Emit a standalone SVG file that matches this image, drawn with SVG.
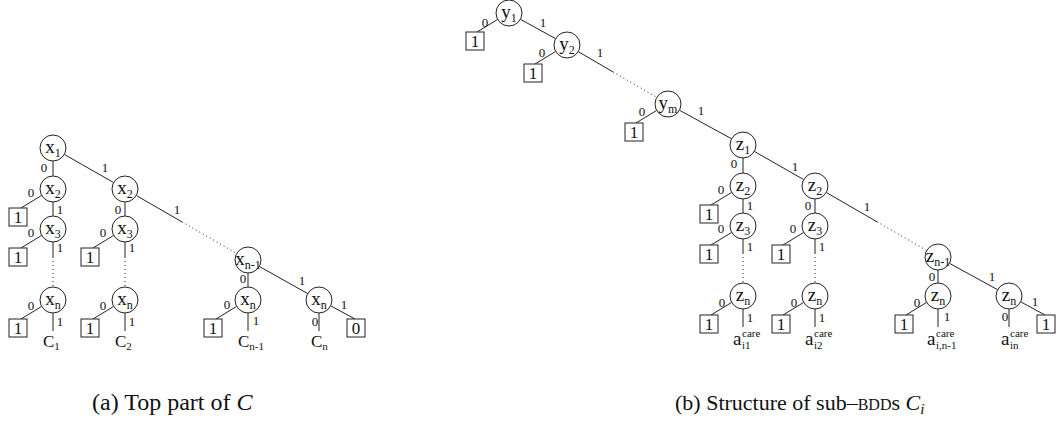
<svg xmlns="http://www.w3.org/2000/svg" width="1059" height="427" viewBox="0 0 1059 427">
  <style>
    text { font-family: "Liberation Serif", "Times New Roman", serif; fill: #111; }
    .node circle { fill: #fff; stroke: #222; stroke-width: 1; }
    .node text { font-size: 19px; text-anchor: middle; }
    .node text tspan { font-size: 12px; }
    .term rect { fill: #fff; stroke: #222; stroke-width: 1; }
    .term text { font-size: 17px; text-anchor: middle; }
    .edges line { stroke: #222; stroke-width: 1; }
    .edges line.dot { stroke-dasharray: 1 3; }
    .elab text { font-size: 13px; text-anchor: middle; }
    .leaf text { font-size: 17px; }
    .leaf text.a { font-size: 19px; }
    .leaf text.s, .leaf tspan.s { font-size: 11px; }
  </style>

  <!-- connectors: part (a) -->
  <g class="edges" id="edges-a">
    <line x1="53" y1="161" x2="53" y2="176"/>
    <line x1="64.3" y1="154.4" x2="113.7" y2="182.6"/>
    <line x1="41.7" y1="195.4" x2="21" y2="208"/>
    <line x1="53" y1="202" x2="53" y2="216"/>
    <line x1="41.7" y1="235.4" x2="21" y2="248"/>
    <line x1="53" y1="242" x2="53" y2="257"/>
    <line class="dot" x1="53" y1="257" x2="53" y2="287"/>
    <line x1="41.7" y1="306.4" x2="21" y2="319"/>
    <line x1="53" y1="313" x2="53" y2="331"/>
    <line x1="125" y1="202" x2="125" y2="216"/>
    <line x1="113.7" y1="235.4" x2="93" y2="248"/>
    <line x1="125" y1="242" x2="125" y2="257"/>
    <line class="dot" x1="125" y1="257" x2="125" y2="287"/>
    <line x1="113.7" y1="306.4" x2="93" y2="319"/>
    <line x1="125" y1="313" x2="125" y2="331"/>
    <line x1="136.3" y1="195.5" x2="182" y2="221.9"/>
    <line class="dot" x1="182" y1="221.9" x2="236.7" y2="253.5"/>
    <line x1="248" y1="273" x2="248" y2="287"/>
    <line x1="259.3" y1="266.4" x2="307.7" y2="293.6"/>
    <line x1="236.7" y1="306.4" x2="216" y2="319"/>
    <line x1="248" y1="313" x2="248" y2="331"/>
    <line x1="319" y1="313" x2="319" y2="331"/>
    <line x1="330.6" y1="305.8" x2="355" y2="319"/>
  </g>

  <!-- connectors: part (b) -->
  <g class="edges" id="edges-b">
    <line x1="497.7" y1="19.4" x2="477" y2="32"/>
    <line x1="520.4" y1="19.3" x2="555.6" y2="38.7"/>
    <line x1="555.7" y1="51.4" x2="535" y2="64"/>
    <line x1="578.2" y1="51.6" x2="613" y2="71.9"/>
    <line class="dot" x1="613" y1="71.9" x2="656.8" y2="97.4"/>
    <line x1="656.7" y1="110.4" x2="636" y2="123"/>
    <line x1="679.4" y1="110.2" x2="731.6" y2="138.8"/>
    <line x1="743" y1="158" x2="743" y2="173"/>
    <line x1="754.3" y1="151.4" x2="803.7" y2="179.6"/>
    <line x1="731.7" y1="192.4" x2="711" y2="205"/>
    <line x1="743" y1="199" x2="743" y2="213"/>
    <line x1="731.7" y1="232.4" x2="711" y2="245"/>
    <line x1="743" y1="239" x2="743" y2="253"/>
    <line class="dot" x1="743" y1="253" x2="743" y2="283"/>
    <line x1="731.7" y1="302.4" x2="711" y2="315"/>
    <line x1="743" y1="309" x2="743" y2="327"/>
    <line x1="815" y1="199" x2="815" y2="213"/>
    <line x1="803.7" y1="232.4" x2="783" y2="245"/>
    <line x1="815" y1="239" x2="815" y2="253"/>
    <line class="dot" x1="815" y1="253" x2="815" y2="283"/>
    <line x1="803.7" y1="302.4" x2="783" y2="315"/>
    <line x1="815" y1="309" x2="815" y2="327"/>
    <line x1="826.3" y1="192.5" x2="877" y2="221.8"/>
    <line class="dot" x1="877" y1="221.8" x2="926.7" y2="250.5"/>
    <line x1="938" y1="270" x2="938" y2="283"/>
    <line x1="949.4" y1="263.3" x2="997.6" y2="289.7"/>
    <line x1="926.7" y1="302.4" x2="906" y2="315"/>
    <line x1="938" y1="309" x2="938" y2="327"/>
    <line x1="1009" y1="309" x2="1009" y2="327"/>
    <line x1="1020.6" y1="301.8" x2="1045" y2="315"/>
  </g>

  <!-- edge labels -->
  <g class="elab" id="edge-labels">
    <text x="44" y="172">0</text>
    <text x="105" y="172">1</text>
    <text x="31" y="197">0</text>
    <text x="60" y="214">1</text>
    <text x="31" y="237">0</text>
    <text x="60" y="252">1</text>
    <text x="31" y="310">0</text>
    <text x="60" y="326">1</text>
    <text x="118" y="214">0</text>
    <text x="103" y="237">0</text>
    <text x="132" y="252">1</text>
    <text x="103" y="310">0</text>
    <text x="132" y="326">1</text>
    <text x="177" y="214">1</text>
    <text x="243" y="283">0</text>
    <text x="302" y="285">1</text>
    <text x="227" y="309">0</text>
    <text x="256" y="325">1</text>
    <text x="315" y="326">0</text>
    <text x="344" y="309">1</text>

    <text x="485" y="27">0</text>
    <text x="543" y="27">1</text>
    <text x="542" y="57">0</text>
    <text x="600" y="57">1</text>
    <text x="642" y="116">0</text>
    <text x="701" y="115">1</text>
    <text x="734" y="168">0</text>
    <text x="795" y="171">1</text>
    <text x="721" y="194">0</text>
    <text x="750" y="210">1</text>
    <text x="721" y="233">0</text>
    <text x="750" y="251">1</text>
    <text x="722" y="307">0</text>
    <text x="750" y="322">1</text>
    <text x="808" y="210">0</text>
    <text x="793" y="233">0</text>
    <text x="822" y="251">1</text>
    <text x="794" y="307">0</text>
    <text x="822" y="322">1</text>
    <text x="867" y="211">1</text>
    <text x="932" y="281">0</text>
    <text x="992" y="281">1</text>
    <text x="917" y="307">0</text>
    <text x="947" y="321">1</text>
    <text x="1005" y="321">0</text>
    <text x="1035" y="306">1</text>
  </g>

  <!-- part (a): decision nodes -->
  <g class="node" id="a-x1"><circle cx="53" cy="148" r="13"/><text x="53" y="152.5">x<tspan dy="4">1</tspan></text></g>
  <g class="node" id="a-x2-left"><circle cx="53" cy="189" r="13"/><text x="53" y="193.5">x<tspan dy="4">2</tspan></text></g>
  <g class="node" id="a-x3-left"><circle cx="53" cy="229" r="13"/><text x="53" y="233.5">x<tspan dy="4">3</tspan></text></g>
  <g class="node" id="a-xn-left"><circle cx="53" cy="300" r="13"/><text x="53" y="304.5">x<tspan dy="4">n</tspan></text></g>
  <g class="node" id="a-x2-right"><circle cx="125" cy="189" r="13"/><text x="125" y="193.5">x<tspan dy="4">2</tspan></text></g>
  <g class="node" id="a-x3-right"><circle cx="125" cy="229" r="13"/><text x="125" y="233.5">x<tspan dy="4">3</tspan></text></g>
  <g class="node" id="a-xn-right"><circle cx="125" cy="300" r="13"/><text x="125" y="304.5">x<tspan dy="4">n</tspan></text></g>
  <g class="node" id="a-xn-1"><circle cx="248" cy="260" r="13"/><text x="248" y="264.5">x<tspan dy="4">n-1</tspan></text></g>
  <g class="node" id="a-xn-0"><circle cx="248" cy="300" r="13"/><text x="248" y="304.5">x<tspan dy="4">n</tspan></text></g>
  <g class="node" id="a-xn-1b"><circle cx="319" cy="300" r="13"/><text x="319" y="304.5">x<tspan dy="4">n</tspan></text></g>

  <!-- part (a): terminals -->
  <g class="term" id="a-t1"><rect x="9" y="208" width="18" height="18"/><text x="18" y="223">1</text></g>
  <g class="term" id="a-t2"><rect x="9" y="248" width="18" height="18"/><text x="18" y="263">1</text></g>
  <g class="term" id="a-t3"><rect x="9" y="319" width="18" height="18"/><text x="18" y="334">1</text></g>
  <g class="term" id="a-t4"><rect x="81" y="248" width="18" height="18"/><text x="90" y="263">1</text></g>
  <g class="term" id="a-t5"><rect x="81" y="319" width="18" height="18"/><text x="90" y="334">1</text></g>
  <g class="term" id="a-t6"><rect x="204" y="319" width="18" height="18"/><text x="213" y="334">1</text></g>
  <g class="term" id="a-t7"><rect x="347" y="319" width="18" height="18"/><text x="356" y="334">0</text></g>

  <!-- part (a): sub-BDD references -->
  <g class="leaf" id="a-c1"><text x="43" y="347">C<tspan class="s" dy="3">1</tspan></text></g>
  <g class="leaf" id="a-c2"><text x="115" y="347">C<tspan class="s" dy="3">2</tspan></text></g>
  <g class="leaf" id="a-cn-1"><text x="238" y="347">C<tspan class="s" dy="3">n-1</tspan></text></g>
  <g class="leaf" id="a-cn"><text x="311" y="347">C<tspan class="s" dy="3">n</tspan></text></g>

  <!-- part (b): decision nodes -->
  <g class="node" id="b-y1"><circle cx="509" cy="13" r="13"/><text x="509" y="17.5">y<tspan dy="4">1</tspan></text></g>
  <g class="node" id="b-y2"><circle cx="567" cy="45" r="13"/><text x="567" y="49.5">y<tspan dy="4">2</tspan></text></g>
  <g class="node" id="b-ym"><circle cx="668" cy="104" r="13"/><text x="668" y="108.5">y<tspan dy="4">m</tspan></text></g>
  <g class="node" id="b-z1"><circle cx="743" cy="145" r="13"/><text x="743" y="149.5">z<tspan dy="4">1</tspan></text></g>
  <g class="node" id="b-z2-left"><circle cx="743" cy="186" r="13"/><text x="743" y="190.5">z<tspan dy="4">2</tspan></text></g>
  <g class="node" id="b-z3-left"><circle cx="743" cy="226" r="13"/><text x="743" y="230.5">z<tspan dy="4">3</tspan></text></g>
  <g class="node" id="b-zn-left"><circle cx="743" cy="296" r="13"/><text x="743" y="300.5">z<tspan dy="4">n</tspan></text></g>
  <g class="node" id="b-z2-right"><circle cx="815" cy="186" r="13"/><text x="815" y="190.5">z<tspan dy="4">2</tspan></text></g>
  <g class="node" id="b-z3-right"><circle cx="815" cy="226" r="13"/><text x="815" y="230.5">z<tspan dy="4">3</tspan></text></g>
  <g class="node" id="b-zn-right"><circle cx="815" cy="296" r="13"/><text x="815" y="300.5">z<tspan dy="4">n</tspan></text></g>
  <g class="node" id="b-zn-1"><circle cx="938" cy="257" r="13"/><text x="938" y="261.5">z<tspan dy="4">n-1</tspan></text></g>
  <g class="node" id="b-zn-0"><circle cx="938" cy="296" r="13"/><text x="938" y="300.5">z<tspan dy="4">n</tspan></text></g>
  <g class="node" id="b-zn-1b"><circle cx="1009" cy="296" r="13"/><text x="1009" y="300.5">z<tspan dy="4">n</tspan></text></g>

  <!-- part (b): terminals -->
  <g class="term" id="b-t1"><rect x="466" y="32" width="18" height="18"/><text x="475" y="47">1</text></g>
  <g class="term" id="b-t2"><rect x="524" y="64" width="18" height="18"/><text x="533" y="79">1</text></g>
  <g class="term" id="b-t3"><rect x="625" y="123" width="18" height="18"/><text x="634" y="138">1</text></g>
  <g class="term" id="b-t4"><rect x="700" y="205" width="18" height="18"/><text x="709" y="220">1</text></g>
  <g class="term" id="b-t5"><rect x="700" y="245" width="18" height="18"/><text x="709" y="260">1</text></g>
  <g class="term" id="b-t6"><rect x="700" y="315" width="18" height="18"/><text x="709" y="330">1</text></g>
  <g class="term" id="b-t7"><rect x="772" y="245" width="18" height="18"/><text x="781" y="260">1</text></g>
  <g class="term" id="b-t8"><rect x="772" y="315" width="18" height="18"/><text x="781" y="330">1</text></g>
  <g class="term" id="b-t9"><rect x="895" y="315" width="18" height="18"/><text x="904" y="330">1</text></g>
  <g class="term" id="b-t10"><rect x="1037" y="315" width="18" height="18"/><text x="1046" y="330">1</text></g>

  <!-- part (b): care values -->
  <g class="leaf" id="b-a1"><text class="a" x="733" y="345">a</text><text class="s" x="742" y="337">care</text><text class="s" x="742" y="349">i1</text></g>
  <g class="leaf" id="b-a2"><text class="a" x="805" y="345">a</text><text class="s" x="814" y="337">care</text><text class="s" x="814" y="349">i2</text></g>
  <g class="leaf" id="b-an-1"><text class="a" x="927" y="345">a</text><text class="s" x="936" y="337">care</text><text class="s" x="936" y="349">i,n-1</text></g>
  <g class="leaf" id="b-an"><text class="a" x="1001" y="345">a</text><text class="s" x="1010" y="337">care</text><text class="s" x="1010" y="349">in</text></g>

  <!-- captions -->
  <text x="92" y="410" font-size="24">(a) Top part of <tspan font-style="italic">C</tspan></text>
  <text x="675" y="410" font-size="22">(b) Structure of sub–<tspan font-size="16">BDD</tspan>s <tspan font-style="italic">C</tspan><tspan font-style="italic" font-size="15" dy="4">i</tspan></text>
</svg>
